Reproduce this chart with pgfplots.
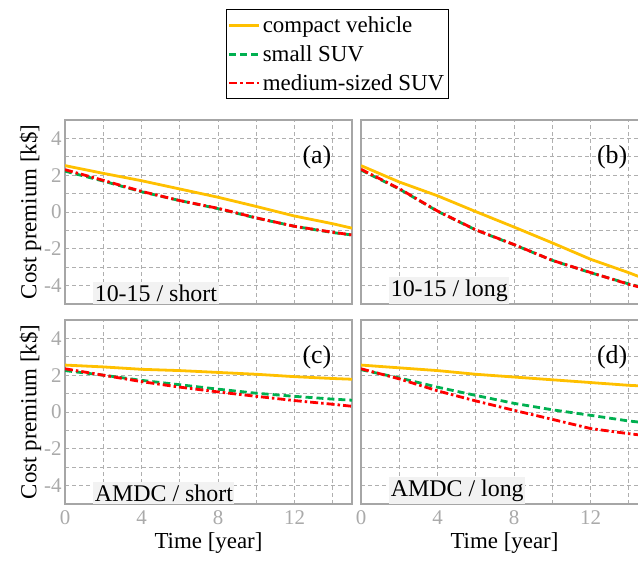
\documentclass[border=0pt]{standalone}
\usepackage{fontspec}
\setmainfont{Liberation Serif}
\usepackage{pgfplots}
\pgfplotsset{compat=1.18}
\definecolor{cveh}{RGB}{255,192,0}
\definecolor{csuv}{RGB}{0,176,80}
\definecolor{msuv}{RGB}{255,0,0}
\definecolor{framegray}{RGB}{166,166,166}
\definecolor{gridgray}{RGB}{175,175,175}
\definecolor{ticklbl}{RGB}{170,170,170}
\definecolor{boxfill}{RGB}{242,242,242}

\tikzset{
  tag/.style={anchor=east, font=\fontsize{26}{28}\selectfont},
  case/.style={anchor=south west, fill=boxfill, inner xsep=1.5bp, inner ysep=2.5bp, font=\fontsize{24}{26}\selectfont},
}
\pgfplotsset{
  panel/.style={
    width=287bp, height=184bp, scale only axis,
    xmin=0, xmax=15, ymin=-5, ymax=5,
    xtick={0,4,8,12}, minor xtick={2,6,10,14},
    ytick={-4,-2,0,2,4}, minor ytick={-3,-1,1,3},
    grid=both,
    major grid style={line width=0.8bp, draw=gridgray, dash pattern=on 4bp off 3bp},
    minor grid style={line width=0.8bp, draw=gridgray, dash pattern=on 4bp off 3bp},
    axis line style={line width=1.6bp, draw=framegray},
    major tick length=0pt, minor tick length=0pt,
    tick label style={font=\fontsize{21}{23}\selectfont, text=ticklbl},
    xticklabel style={yshift=-3bp},
    /pgf/number format/assume math mode=true,
    label style={font=\fontsize{23}{25}\selectfont},
    clip=true,
  },
  cv/.style={cveh, line width=2.8bp, solid, no marks},
  ss/.style={csuv, line width=2.8bp, dash pattern=on 7bp off 4bp, no marks},
  ms/.style={msuv, line width=2.8bp, dash pattern=on 8bp off 3bp on 2.5bp off 3bp, no marks},
}

\begin{document}
\begin{tikzpicture}[x=1bp,y=1bp]
% (a)
\begin{axis}[panel, at={(65bp,257bp)}, anchor=south west,
  xticklabels={}, ylabel={Cost premium [k\$]},
  ylabel style={yshift=-4bp},
  legend style={at={(0.948,1.114)}, anchor=south, draw=black, line width=0.6bp,
    font=\fontsize{23}{25}\selectfont, cells={anchor=west}, row sep=7.5bp,
    inner xsep=2bp, inner ysep=5bp},
  legend image code/.code={\draw[#1] (0bp,0bp) -- (30bp,0bp);}]
\addplot[cv] coordinates {(0,2.52)(2,2.1)(4,1.7)(6,1.25)(8,0.8)(10,0.3)(12,-0.22)(14,-0.64)(15,-0.88)};
\addplot[ss] coordinates {(0,2.22)(2,1.68)(4,1.1)(6,0.62)(8,0.18)(10,-0.33)(12,-0.78)(14,-1.12)(15,-1.25)};
\addplot[ms] coordinates {(0,2.3)(2,1.72)(4,1.12)(6,0.62)(8,0.2)(10,-0.32)(12,-0.78)(14,-1.1)(15,-1.25)};
\legend{compact vehicle, small SUV, medium-sized SUV}
\node[tag] at (rel axis cs:0.94,0.8) {(a)};
\node[case] at (rel axis cs:0.098,0) {10-15 / short};
\end{axis}
% (b)
\begin{axis}[panel, at={(361bp,257bp)}, anchor=south west,
  xticklabels={}, yticklabels={}]
\addplot[cv] coordinates {(0,2.52)(2,1.63)(4,0.88)(6,0.02)(8,-0.82)(10,-1.68)(12,-2.57)(14,-3.3)(15,-3.7)};
\addplot[ss] coordinates {(0,2.28)(2,1.25)(4,0.04)(6,-0.98)(8,-1.78)(10,-2.63)(12,-3.3)(14,-3.91)(15,-4.18)};
\addplot[ms] coordinates {(0,2.32)(2,1.27)(4,0.05)(6,-0.97)(8,-1.77)(10,-2.63)(12,-3.29)(14,-3.93)(15,-4.2)};
\node[tag] at (rel axis cs:0.94,0.8) {(b)};
\node[case] at (rel axis cs:0.098,0) {10-15 / long};
\end{axis}
% (c)
\begin{axis}[panel, at={(65bp,57bp)}, anchor=south west,
  ylabel={Cost premium [k\$]}, xlabel={Time [year]},
  ylabel style={yshift=-4bp}, xlabel style={yshift=-1bp}]
\addplot[cv] coordinates {(0,2.55)(2,2.45)(4,2.32)(6,2.25)(8,2.15)(10,2.05)(12,1.92)(14,1.82)(15,1.78)};
\addplot[ss] coordinates {(0,2.25)(2,2.0)(4,1.72)(6,1.48)(8,1.24)(10,1.02)(12,0.85)(14,0.7)(15,0.64)};
\addplot[ms] coordinates {(0,2.35)(2,2.0)(4,1.65)(6,1.35)(8,1.09)(10,0.85)(12,0.62)(14,0.42)(15,0.31)};
\node[tag] at (rel axis cs:0.94,0.8) {(c)};
\node[case] at (rel axis cs:0.098,0) {AMDC / short};
\end{axis}
% (d)
\begin{axis}[panel, at={(361bp,57bp)}, anchor=south west,
  yticklabels={}, xlabel={Time [year]}, xlabel style={yshift=-1bp}]
\addplot[cv] coordinates {(0,2.55)(2,2.4)(4,2.25)(6,2.05)(8,1.9)(10,1.75)(12,1.6)(14,1.45)(15,1.4)};
\addplot[ss] coordinates {(0,2.3)(2,1.85)(4,1.35)(6,0.9)(8,0.47)(10,0.12)(12,-0.18)(14,-0.49)(15,-0.6)};
\addplot[ms] coordinates {(0,2.35)(2,1.8)(4,1.15)(6,0.6)(8,0.09)(10,-0.4)(12,-0.9)(14,-1.18)(15,-1.3)};
\node[tag] at (rel axis cs:0.94,0.8) {(d)};
\node[case] at (rel axis cs:0.098,0) {AMDC / long};
\end{axis}
\pgfresetboundingbox
\path[use as bounding box] (0,0) rectangle (638,561);
\end{tikzpicture}
\end{document}
